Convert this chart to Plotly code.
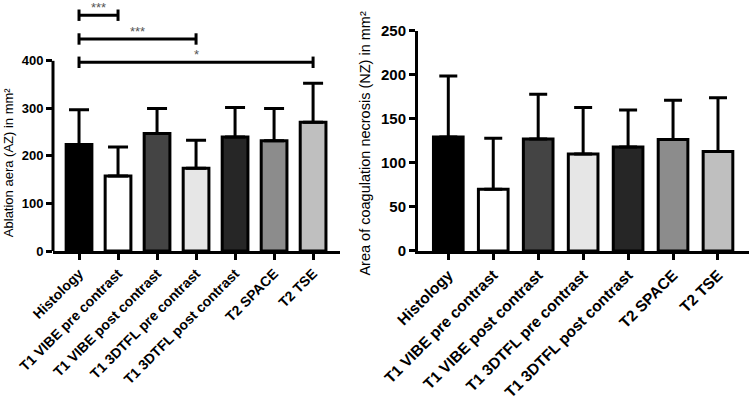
import plotly.graph_objects as go

categories = ["Histology", "T1 VIBE pre contrast", "T1 VIBE post contrast",
              "T1 3DTFL pre contrast", "T1 3DTFL post contrast", "T2 SPACE", "T2 TSE"]
bar_colors = ["#000000", "#ffffff", "#444444", "#e6e6e6", "#262626", "#8c8c8c", "#bfbfbf"]

az_mean = [224, 158, 247, 174, 240, 232, 271]
az_sd = [73, 61, 53, 59, 62, 68, 82]

nz_mean = [129.5, 70, 127, 110, 118, 126.5, 113]
nz_sd = [69, 58, 51, 53, 42, 44.5, 61]

# significance comparisons (left panel): (index a, index b, bracket height, label)
comparisons = [(0, 1, 496, "***"), (0, 3, 446, "***"), (0, 6, 397, "*")]

FONT = "Liberation Sans, Arial, Helvetica, sans-serif"
W, H = 749, 401

fig = go.Figure()

fig.add_trace(go.Bar(
    x=categories, y=az_mean, xaxis="x", yaxis="y",
    width=0.66,
    marker=dict(color=bar_colors, line=dict(color="black", width=3)),
    error_y=dict(type="data", symmetric=False, array=az_sd, arrayminus=[0]*7,
                 color="black", thickness=3, width=10),
    showlegend=False, hoverinfo="skip",
))
fig.add_trace(go.Bar(
    x=categories, y=nz_mean, xaxis="x2", yaxis="y2",
    width=0.66,
    marker=dict(color=bar_colors, line=dict(color="black", width=3)),
    error_y=dict(type="data", symmetric=False, array=nz_sd, arrayminus=[0]*7,
                 color="black", thickness=3, width=9),
    showlegend=False, hoverinfo="skip",
))

shapes = []
annotations = []
# manual left y-axis line (only up to 400)
shapes.append(dict(type="line", xref="x domain", yref="y", x0=0, x1=0, y0=0, y1=400,
                   line=dict(color="black", width=3)))
for a, b, h, lab in comparisons:
    shapes.append(dict(type="line", xref="x", yref="y", x0=a, x1=b, y0=h, y1=h,
                       line=dict(color="black", width=3)))
    for idx in (a, b):
        shapes.append(dict(type="line", xref="x", yref="y", x0=idx, x1=idx,
                           y0=h - 12, y1=h + 12, line=dict(color="black", width=3)))
    annotations.append(dict(x=(a + b) / 2, y=h, xref="x", yref="y", text=lab,
                            showarrow=False, yanchor="bottom", yshift=-2,
                            font=dict(family=FONT, size=13, color="#555555")))

annotations.append(dict(x=8 / W, y=0.35, xref="paper", yref="paper",
                        text="Ablation aera (AZ) in mm²", textangle=-90, showarrow=False,
                        xanchor="center", yanchor="middle",
                        font=dict(family=FONT, size=13, color="black")))
annotations.append(dict(x=365 / W, y=0.428, xref="paper", yref="paper",
                        text="Area of coagulation necrosis (NZ) in mm²", textangle=-90,
                        showarrow=False, xanchor="center", yanchor="middle",
                        font=dict(family=FONT, size=14.5, color="black")))

axis_common = dict(showgrid=False, zeroline=False, color="black", automargin=False,
                   ticks="outside", ticklen=6, tickwidth=3, tickcolor="black")

fig.update_layout(
    width=W, height=H,
    margin=dict(l=0, r=0, t=0, b=150, autoexpand=False),
    paper_bgcolor="white", plot_bgcolor="white",
    bargap=0.3,
    xaxis=dict(domain=[53 / W, 340 / W], range=[-0.667, 6.69], anchor="y",
               showline=True, linewidth=3, linecolor="black", tickangle=-45,
               tickfont=dict(family=FONT, size=14, color="black", weight="bold"),
               **axis_common),
    yaxis=dict(domain=[0, 1], range=[0, 528], anchor="x", showline=False,
               tickvals=[0, 100, 200, 300, 400],
               tickfont=dict(family=FONT, size=13, color="black", weight="bold"),
               **axis_common),
    xaxis2=dict(domain=[418 / W, 1.0], range=[-0.674, 6.69], anchor="y2",
                showline=True, linewidth=3, linecolor="black", tickangle=-45,
                tickfont=dict(family=FONT, size=15.5, color="black", weight="bold"),
                **axis_common),
    yaxis2=dict(domain=[0, 220 / 250.7], range=[0, 250], anchor="x2",
                showline=True, linewidth=3, linecolor="black",
                tickvals=[0, 50, 100, 150, 200, 250],
                tickfont=dict(family=FONT, size=15, color="black", weight="bold"),
                **axis_common),
    shapes=shapes,
    annotations=annotations,
)

fig.write_html("out.html", config={"displayModeBar": False, "staticPlot": True},
               post_script="document.body.style.margin='0';document.body.style.overflow='hidden';")
